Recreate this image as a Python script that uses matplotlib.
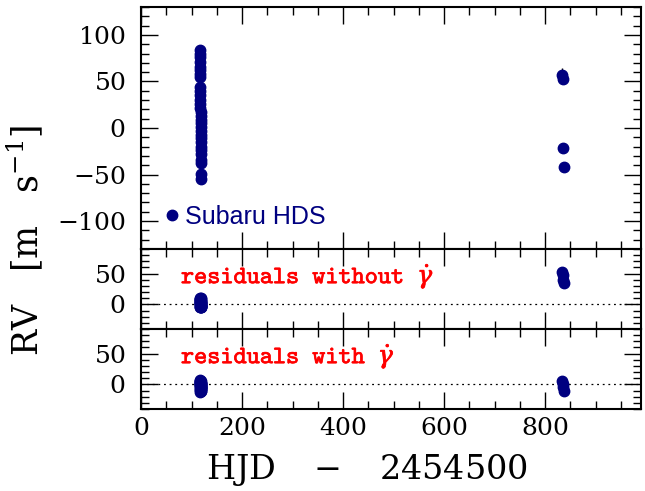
import numpy as np
import matplotlib.pyplot as plt
import matplotlib.patheffects as pe
from matplotlib.ticker import MultipleLocator

plt.rcParams['font.family'] = 'DejaVu Serif'
plt.rcParams['mathtext.fontset'] = 'dejavuserif'
plt.rcParams['axes.formatter.use_mathtext'] = True

navy = '#000080'

# Subaru HDS radial velocities, first season (HJD - 2454500 ~ 117)
t1 = [116.5, 116.6, 116.7, 116.8, 116.9, 117.0, 117.1, 117.2, 117.3, 117.4,
      117.5, 117.6, 117.7, 117.8, 117.9, 118.0, 118.1, 118.2, 118.3, 118.4,
      118.5, 118.6, 118.7, 118.8, 118.9, 119.0, 119.1, 119.2, 119.3, 119.4]
rv1 = [84, 80, 76, 71, 66, 62, 58, 55, 44, 40,
       35, 30, 26, 22, 17, 13, 9, 5, 1, -3,
       -7, -11, -15, -20, -24, -28, -34, -38, -49, -55]
err1 = [3] * len(t1)
res_no_gd1 = [10, 8, 6, 4, 2, 0, -2, -4, -5, 9,
              7, 5, 3, 1, -1, -3, -5, 8, 6, 4,
              2, 0, -2, -4, 10, 6, 2, -2, -5, 0]
res_gd1 = [7, 5, 3, 1, -1, -3, -5, -7, -9, -12,
           6, 4, 2, 0, -2, -4, -6, -8, -10, 5,
           3, 1, -1, -3, -5, -8, -11, 0, -6, 2]

# second season (HJD - 2454500 ~ 835)
t2 = [834, 835, 836, 837]
rv2 = [57, 53, -21, -42]
err2 = [7, 6, 5, 5]
res_no_gd2 = [52, 48, 40, 35]
res_gd2 = [5, 0, -5, -10]

fig = plt.figure(figsize=(6.45, 4.91), dpi=100)
L, R = 141 / 645, 641 / 645
ax1 = fig.add_axes([L, 1 - 249 / 491, R - L, 242 / 491])
ax2 = fig.add_axes([L, 1 - 329 / 491, R - L, 80 / 491], sharex=ax1)
ax3 = fig.add_axes([L, 1 - 409 / 491, R - L, 80 / 491], sharex=ax1)

t_all = t1 + t2
err_all = err1 + err2
for ax, y, lab in ((ax1, rv1 + rv2, 'Subaru HDS'),
                   (ax2, res_no_gd1 + res_no_gd2, None),
                   (ax3, res_gd1 + res_gd2, None)):
    ax.errorbar(t_all, y, yerr=err_all, fmt='none', ecolor='black', elinewidth=1)
    ax.plot(t_all, y, 'o', color=navy, ms=7.5, label=lab)

for ax in (ax2, ax3):
    ax.axhline(0, color='black', ls=(0, (1.5, 3)), lw=0.9, zorder=0)
    ax.set_ylim(-40, 90)
    ax.yaxis.set_major_locator(MultipleLocator(50))
    ax.yaxis.set_minor_locator(MultipleLocator(10))

ax1.set_ylim(-130, 130)
ax1.yaxis.set_major_locator(MultipleLocator(50))
ax1.yaxis.set_minor_locator(MultipleLocator(10))
ax1.set_xlim(0, 990)
ax1.xaxis.set_major_locator(MultipleLocator(200))
ax1.xaxis.set_minor_locator(MultipleLocator(50))

for ax in (ax1, ax2, ax3):
    ax.tick_params(which='both', direction='in', top=True, right=True,
                   labelsize=18, width=1)
    ax.tick_params(which='major', length=12)
    ax.tick_params(which='minor', length=6)
    ax.tick_params(axis='y', which='major', pad=11)
    ax.tick_params(axis='x', which='major', pad=6)
    for s in ax.spines.values():
        s.set_linewidth(1.5)
for ax in (ax1, ax2):
    ax.tick_params(labelbottom=False)

bold = [pe.withStroke(linewidth=0.5, foreground='red')]
ax2.text(0.08, 0.66, r'residuals without $\dot{\gamma}$', transform=ax2.transAxes,
         color='red', fontsize=18, family='cmtt10', va='center', path_effects=bold)
ax3.text(0.08, 0.66, r'residuals with $\dot{\gamma}$', transform=ax3.transAxes,
         color='red', fontsize=18, family='cmtt10', va='center', path_effects=bold)

leg = ax1.legend(loc='lower left', frameon=False, handlelength=0.5, handletextpad=0.25,
                 borderaxespad=0.3, bbox_to_anchor=(0.015, 0.01),
                 prop={'family': 'Liberation Sans', 'size': 18})
for txt in leg.get_texts():
    txt.set_color(navy)

fig.text(0.039, 0.51, r'$\mathrm{RV}\quad\left[\mathrm{m}\ \ \ \mathrm{s}^{-1}\right]$',
         rotation=90, fontsize=25, ha='center', va='center')
fig.text(0.569, 0.043, r'$\mathrm{HJD}\quad -\quad 2454500$', fontsize=24,
         ha='center', va='center')

fig.savefig('out.png', dpi=100)
